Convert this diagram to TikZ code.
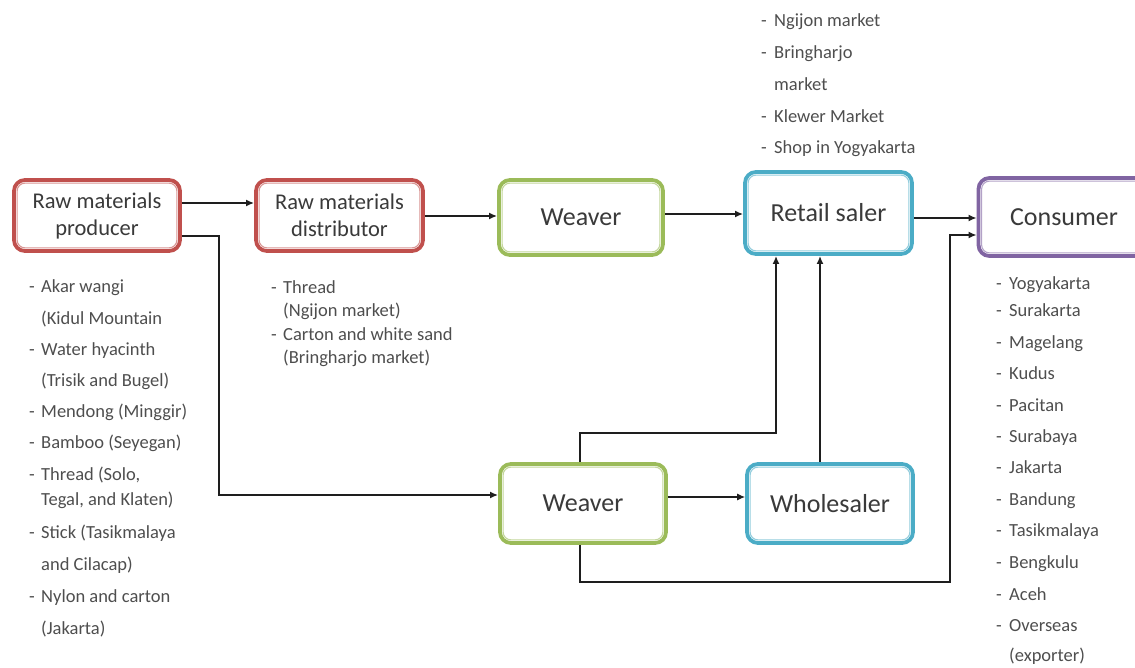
\documentclass[tikz,border=0pt]{standalone}
\usepackage{fontspec}
\setmainfont{Carlito}
\usetikzlibrary{arrows.meta}
\definecolor{cred}{HTML}{C0504D}
\definecolor{cgreen}{HTML}{9BBB59}
\definecolor{cblue}{HTML}{4BACC6}
\definecolor{cpurple}{HTML}{8064A2}
\definecolor{ctext}{HTML}{3A3A3A}
\definecolor{cline}{HTML}{1E1E1E}
\begin{document}
\begin{tikzpicture}[x=1pt,y=-1pt,
  box/.style={draw=#1, line width=3.8pt, rounded corners=11pt, fill=white,
    text=ctext, align=center, inner sep=2pt},
  lbl/.style={font=\fontsize{26}{29}\selectfont},
  lblsm/.style={font=\fontsize{22.5}{27}\selectfont},
  li/.style={anchor=mid west, inner sep=0pt, text=ctext!90, font=\fontsize{18.5}{21}\selectfont},
  arr/.style={draw=cline, line width=1.9pt, -{Latex[length=8pt,width=7pt]}},
  arrthin/.style={draw=cline, line width=1.1pt, -{Latex[length=8pt,width=7pt]}}
]
\useasboundingbox (0,0) rectangle (1135,667);

% boxes
\node[box=cred, lblsm, minimum width=166pt, minimum height=71pt] (prod) at (97,215.5) {Raw materials\\producer};
\node[box=cred, lblsm, minimum width=167pt, minimum height=71pt] (dist) at (339.5,215.5) {Raw materials\\distributor};
\node[box=cgreen, lbl, minimum width=164pt, minimum height=75pt] (weav1) at (581,217.5) {Weaver};
\node[box=cblue, lbl, minimum width=167pt, minimum height=82pt] (retail) at (828.5,213) {Retail saler};
\node[box=cpurple, lbl, minimum width=171pt, minimum height=78pt] (cons) at (1064,217) {Consumer};
\node[box=cgreen, lbl, minimum width=166pt, minimum height=79pt] (weav2) at (583,503.5) {Weaver};
\node[box=cblue, lbl, minimum width=166pt, minimum height=79pt] (whole) at (830,503.5) {Wholesaler};

% inner thin borders
\foreach \n/\c in {prod/cred, dist/cred, weav1/cgreen, retail/cblue, cons/cpurple, weav2/cgreen, whole/cblue}{
  \draw[\c!60, line width=1.1pt, rounded corners=8pt]
    ([xshift=5pt,yshift=-5pt]\n.north west) rectangle ([xshift=-5pt,yshift=5pt]\n.south east);
}

% connectors
\draw[arr] ([yshift=12.5pt]prod.east) -- ([yshift=12.5pt]prod.east -| dist.west);
\draw[arr] ([yshift=-20.5pt]prod.east) -- ++(37,0) |- ([yshift=8.5pt]weav2.west);
\draw[arr] ([yshift=-0.5pt]dist.east) -- ([yshift=-0.5pt]dist.east -| weav1.west);
\draw[arr] ([yshift=3.5pt]weav1.east) -- ([yshift=3.5pt]weav1.east -| retail.west);
\draw[arr] ([yshift=-5pt]retail.east) -- ([yshift=-5pt]retail.east -| cons.west);
\draw[arr] ([xshift=-3pt]weav2.north) -- ++(0,-29) -| ([xshift=-52.5pt]retail.south);
\draw[arr] ([xshift=-10pt]whole.north) -- ([xshift=-10pt]whole.north |- retail.south);
\draw[arrthin] ([yshift=6.5pt]weav2.east) -- ([yshift=6.5pt]weav2.east -| whole.west);
\draw[arr] ([xshift=-3pt]weav2.south) |- ++(370,37) |- ([yshift=-18pt]cons.west);

% producer list
\foreach \y/\d/\t [count=\i] in {290/-/{Akar wangi}, 322//{(Kidul Mountain}, 353/-/{Water hyacinth}, 384//{(Trisik and Bugel)}, 415/-/{Mendong (Minggir)}, 446/-/{Bamboo (Seyegan)}, 478/-/{Thread (Solo,}, 503//{Tegal, and Klaten)}, 536/-/{Stick (Tasikmalaya}, 568//{and Cilacap)}, 600/-/{Nylon and carton}, 632//{(Jakarta)}}{
  \node[li] (pd\i) at (29,\y) {\d};
  \node[li] (pt\i) at (41,\y) {\t};
}
% distributor list
\foreach \y/\d/\t [count=\i] in {291/-/{Thread}, 314//{(Ngijon market)}, 338/-/{Carton and white sand}, 361//{(Bringharjo market)}}{
  \node[li] (dd\i) at (271,\y) {\d};
  \node[li] (dt\i) at (283,\y) {\t};
}
% retail list
\foreach \y/\d/\t [count=\i] in {24/-/{Ngijon market}, 56/-/{Bringharjo}, 88//{market}, 120/-/{Klewer Market}, 151/-/{Shop in Yogyakarta}}{
  \node[li] (rd\i) at (761,\y) {\d};
  \node[li] (rt\i) at (774,\y) {\t};
}
% consumer list
\foreach \y/\d/\t [count=\i] in {287/-/{Yogyakarta}, 314/-/{Surakarta}, 346/-/{Magelang}, 377/-/{Kudus}, 409/-/{Pacitan}, 440/-/{Surabaya}, 471/-/{Jakarta}, 503/-/{Bandung}, 534/-/{Tasikmalaya}, 566/-/{Bengkulu}, 598/-/{Aceh}, 629/-/{Overseas}, 659//{(exporter)}}{
  \node[li] (cd\i) at (996,\y) {\d};
  \node[li] (ct\i) at (1009,\y) {\t};
}
\end{tikzpicture}
\end{document}
